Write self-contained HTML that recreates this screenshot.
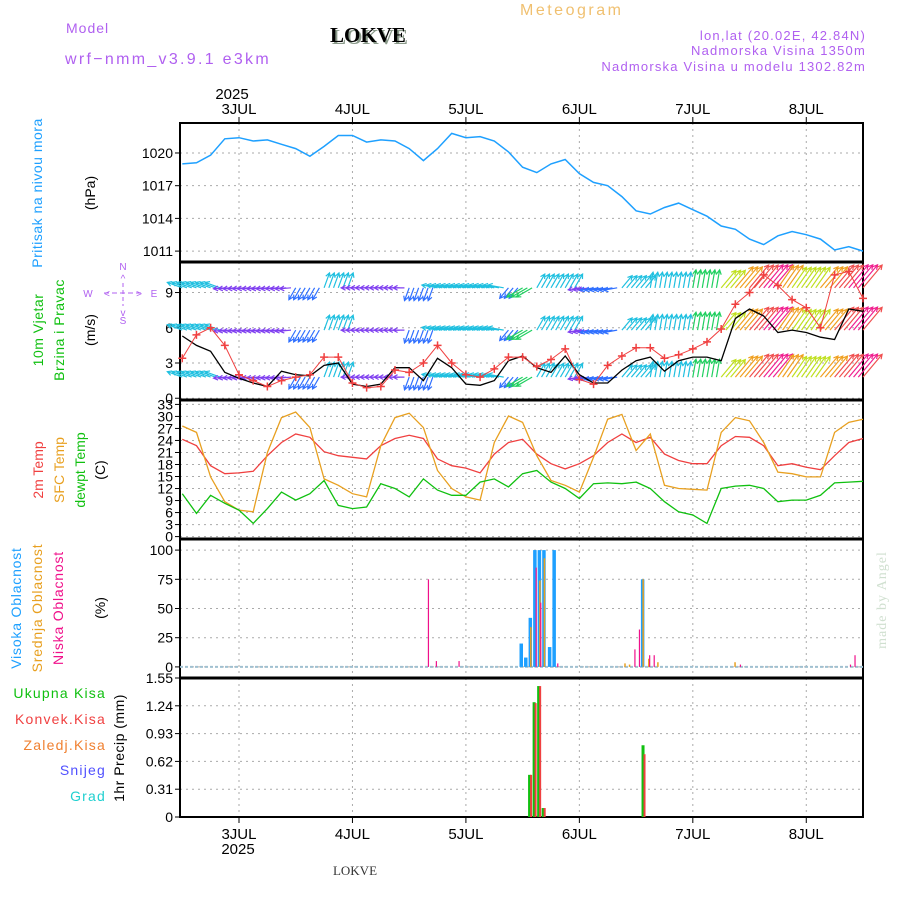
<!DOCTYPE html>
<html><head><meta charset="utf-8">
<style>
body{margin:0;background:#fff;}
svg{display:block;font-family:"Liberation Sans",sans-serif;}
</style></head>
<body>
<svg id="chart" width="900" height="900" viewBox="0 0 900 900">
  <text x="66" y="33" font-size="14" fill="#b060f0" letter-spacing="1">Model</text>
  <text x="65" y="64" font-size="16" fill="#b060f0" letter-spacing="2.3">wrf−nmm_v3.9.1  e3km</text>
  <text x="332" y="44" font-size="21" font-weight="bold" font-family="Liberation Serif,serif" fill="#8a9a8a">LOKVE</text>
  <text x="330" y="42" font-size="21" font-weight="bold" font-family="Liberation Serif,serif" fill="#000">LOKVE</text>
  <text x="520" y="15" font-size="16" fill="#f0c070" letter-spacing="2.5">Meteogram</text>
  <text x="866" y="40" font-size="13" fill="#b060f0" text-anchor="end" letter-spacing="1.2">lon,lat (20.02E, 42.84N)</text>
  <text x="866" y="55" font-size="13" fill="#b060f0" text-anchor="end" letter-spacing="1.2">Nadmorska Visina 1350m</text>
  <text x="866" y="71" font-size="13" fill="#b060f0" text-anchor="end" letter-spacing="1.2">Nadmorska Visina u modelu 1302.82m</text>
  <text x="232" y="99" font-size="15" text-anchor="middle">2025</text>
  <text x="238" y="854" font-size="15" text-anchor="middle">2025</text>
  <text x="355" y="875" font-size="13" font-family="Liberation Serif,serif" fill="#333" text-anchor="middle">LOKVE</text>

  <text transform="translate(42,193) rotate(-90)" font-size="14" fill="#1ea0ff" text-anchor="middle" letter-spacing="0.5">Pritisak na nivou mora</text>
  <text transform="translate(95,193) rotate(-90)" font-size="14" text-anchor="middle">(hPa)</text>

  <text transform="translate(43,330) rotate(-90)" font-size="14" fill="#10c010" text-anchor="middle" letter-spacing="0.5">10m Vjetar</text>
  <text transform="translate(64,330) rotate(-90)" font-size="14" fill="#10c010" text-anchor="middle" letter-spacing="0.5">Brzina i Pravac</text>
  <text transform="translate(95,330) rotate(-90)" font-size="14" text-anchor="middle">(m/s)</text>
  <g fill="#b060f0" font-size="10" text-anchor="middle">
    <text x="123" y="270">N</text><text x="123" y="324">S</text><text x="88" y="297">W</text><text x="154" y="297">E</text>
    <text x="123" y="282">^</text><text x="123" y="316">v</text>
    <line x1="104" y1="293" x2="142" y2="293" stroke="#b060f0" stroke-dasharray="5,3"/>
    <line x1="123" y1="283" x2="123" y2="306" stroke="#b060f0" stroke-dasharray="4,3"/>
    <text x="107" y="297">&lt;</text><text x="139" y="297">&gt;</text>
  </g>

  <text transform="translate(43,470) rotate(-90)" font-size="14" fill="#f04040" text-anchor="middle">2m Temp</text>
  <text transform="translate(64,470) rotate(-90)" font-size="14" fill="#e8a020" text-anchor="middle">SFC Temp</text>
  <text transform="translate(85,470) rotate(-90)" font-size="14" fill="#10c010" text-anchor="middle">dewpt Temp</text>
  <text transform="translate(105,470) rotate(-90)" font-size="14" text-anchor="middle">(C)</text>

  <text transform="translate(21,608) rotate(-90)" font-size="14" fill="#1ea0ff" text-anchor="middle" letter-spacing="0.8">Visoka Oblacnost</text>
  <text transform="translate(42,608) rotate(-90)" font-size="14" fill="#e8a020" text-anchor="middle" letter-spacing="0.8">Srednja Oblacnost</text>
  <text transform="translate(63,608) rotate(-90)" font-size="14" fill="#f0108a" text-anchor="middle" letter-spacing="0.8">Niska Oblacnost</text>
  <text transform="translate(105,608) rotate(-90)" font-size="14" text-anchor="middle">(%)</text>

  <g font-size="14" text-anchor="end" letter-spacing="1.2">
    <text x="106" y="698" fill="#10c010">Ukupna  Kisa</text>
    <text x="106" y="724" fill="#f04040">Konvek.Kisa</text>
    <text x="106" y="750" fill="#f08030">Zaledj.Kisa</text>
    <text x="106" y="775" fill="#5050ff">Snijeg</text>
    <text x="106" y="801" fill="#20d0d0">Grad</text>
  </g>
  <text transform="translate(124,748) rotate(-90)" font-size="14" text-anchor="middle" letter-spacing="0.5">1hr Precip (mm)</text>
  <text transform="translate(886,600) rotate(-90)" font-size="14" font-family="Liberation Serif,serif" fill="#d0e0d0" text-anchor="middle" letter-spacing="1">made by Angel</text>
  <g id="plots"></g>
</svg>
<script>
const times=[-0.5,-0.375,-0.25,-0.125,0,0.125,0.25,0.375,0.5,0.625,0.75,0.875,1,1.125,1.25,1.375,1.5,1.625,1.75,1.875,2,2.125,2.25,2.375,2.5,2.625,2.75,2.875,3,3.125,3.25,3.375,3.5,3.625,3.75,3.875,4,4.125,4.25,4.375,4.5,4.625,4.75,4.875,5,5.125,5.25,5.375,5.5];
const dayLabels=["3JUL","4JUL","5JUL","6JUL","7JUL","8JUL"];
const pressure=[1019.0,1019.1,1019.8,1021.3,1021.4,1021.1,1021.2,1020.8,1020.4,1019.7,1020.6,1021.6,1021.6,1021.0,1021.2,1021.1,1020.4,1019.3,1020.4,1021.8,1021.4,1021.5,1021.1,1020.1,1018.7,1018.2,1019.0,1019.4,1018.1,1017.3,1017.0,1016.0,1014.7,1014.4,1015.0,1015.4,1014.8,1014.2,1013.3,1013.0,1012.1,1011.6,1012.4,1012.8,1012.5,1012.1,1011.1,1011.4,1011.0];
const pressTicks=[1011,1014,1017,1020];
const windSpeed=[5.3,4.5,4.0,2.2,1.7,1.3,1.0,2.3,2.0,1.9,2.8,3.0,1.2,1.0,1.2,2.6,2.6,1.5,3.4,2.6,1.2,1.1,1.5,3.2,3.6,2.6,2.2,3.6,2.0,1.3,1.3,2.4,3.2,3.5,2.3,3.2,3.5,3.5,3.2,6.8,7.6,7.0,5.6,5.8,5.6,5.2,5.0,7.6,7.4];
const windGust=[3.4,5.4,6.0,4.5,2.0,1.5,1.0,1.5,1.8,2.0,3.5,3.5,1.3,0.9,1.0,2.4,2.2,3.0,4.5,3.0,2.0,1.8,2.5,3.5,3.5,2.7,3.3,4.2,1.6,1.2,2.8,3.6,4.3,4.3,3.4,3.7,4.2,4.8,5.9,8.0,9.0,10.5,9.6,8.4,7.7,6.0,10.5,10.8,8.5];
const windDir=[290,290,290,265,265,265,265,265,210,210,20,20,270,270,270,270,200,200,280,280,280,280,280,220,240,30,30,30,260,260,260,40,40,10,10,10,10,10,40,40,40,40,35,35,35,40,40,40,40];
const rowSpeed=[3,3,3,1,1,1,1,1,2,2,3,3,1,1,1,1,2,2,3,3,3,3,3,2,4,3,3,3,1,2,2,3,3,3,3,3,4,4,6,8,9,10,8,7,7,8,9,10,9];
const windRows=[1.8,5.8,9.4];
const windTicks=[0,3,6,9];
const temp2m=[24.3,22.7,17.7,15.7,15.9,16.3,20.2,23.5,25.6,24.8,21.2,20.2,19.8,19.4,22.7,24.5,25.3,24.5,19.4,17.7,17.1,15.9,20.6,23.5,24.3,20.6,18.2,16.9,18.2,20.2,23.5,25.6,23.5,24.8,20.6,19.0,18.2,18.2,22.7,25.0,24.8,22.7,17.7,18.2,17.3,16.7,20.2,23.5,24.5];
const tempSfc=[27.6,26.0,14.9,8.7,6.6,6.2,21.0,29.7,31.1,27.2,14.4,12.8,10.7,9.9,22.7,29.7,30.8,27.2,16.5,12.0,9.9,9.1,23.5,30.1,28.5,20.2,14.0,12.8,11.1,19.8,29.3,30.5,21.5,25.6,12.8,12.0,11.8,11.6,26.0,29.7,28.9,23.5,16.1,15.7,14.9,14.9,26.0,28.5,29.3];
const dewpt=[10.7,5.8,10.3,8.3,6.6,3.3,7.0,11.1,9.1,10.7,14.0,7.8,7.0,7.4,13.2,12.0,9.9,14.4,11.6,10.3,10.3,13.6,14.4,12.4,15.7,16.5,13.6,12.0,9.5,13.2,13.4,13.2,13.6,12.0,8.7,6.2,5.4,3.3,12.0,12.6,12.8,12.0,8.7,9.1,9.1,10.3,13.4,13.6,13.8];
const tempTicks=[0,3,6,9,12,15,18,21,24,27,30,33];
const cloudTimes=[1.66,1.73,1.93,2.80,2.49,2.53,2.57,2.61,2.65,2.69,2.74,2.78,3.40,3.44,3.48,3.52,3.56,3.61,3.65,3.69,4.37,4.41,5.38,5.42];
const cloudLow=[75,5,5,3,0,0,0,85,55,0,0,0,0,0,15,32,0,10,10,0,0,2,2,10];
const cloudMid=[0,0,0,0,0,0,34,0,74,93,0,0,3,2,0,0,75,7,0,4,4,0,0,0];
const cloudHigh=[0,0,0,0,20,8,42,100,100,100,17,100,0,0,0,0,75,0,0,0,0,0,0,0];
const cloudTicks=[0,25,50,75,100];
const precipTimes=[2.57,2.61,2.65,2.69,3.57];
const precipTotal=[0.47,1.28,1.46,0.10,0.80];
const precipConv=[0.47,1.27,1.46,0.10,0.70];
const precipTicks=[0,0.31,0.62,0.93,1.24,1.55];

const NS='http://www.w3.org/2000/svg';
const g=document.getElementById('plots');
const X0=180,X1=863,T0=-0.52,T1=5.5;
function xs(t){return X0+(t-T0)/(T1-T0)*(X1-X0);}
function mk(tag,attrs,parent){const e=document.createElementNS(NS,tag);for(const k in attrs)e.setAttribute(k,attrs[k]);(parent||g).appendChild(e);return e;}
function scaleY(top,bot,vmin,vmax){return v=>bot-(v-vmin)/(vmax-vmin)*(bot-top);}
const panels=[
 {name:'pressure',top:123,bot:262,y:scaleY(123,262,1010,1022.75),ticks:pressTicks},
 {name:'wind',top:262,bot:400,y:scaleY(262,400,-0.15,11.6),ticks:windTicks},
 {name:'temperature',top:400,bot:539,y:scaleY(400,539,-0.6,34.1),ticks:tempTicks},
 {name:'cloud',top:539,bot:678,y:scaleY(539,678,-9.5,109.5),ticks:cloudTicks},
 {name:'precip',top:678,bot:817,y:scaleY(678,817,0,1.55),ticks:precipTicks}
];
panels.forEach(p=>{
  const grp=mk('g',{});
  
  
  for(let d=0;d<6;d++){
    const ln=mk('line',{x1:xs(d),x2:xs(d),y1:p.top,y2:p.bot,stroke:'#aaa','stroke-dasharray':'2,4'},grp);
    
    
  }
  p.ticks.forEach(v=>{
    const yy=p.y(v);
    const ln=mk('line',{x1:X0,x2:X1,y1:yy,y2:yy,stroke:'#aaa','stroke-dasharray':'2,4'},grp);
    
    
    mk('line',{x1:X0-5,x2:X0,y1:yy,y2:yy,stroke:'#000'},grp);
    const tx=mk('text',{x:X0-7,y:yy+5,'font-size':14,'text-anchor':'end'},grp);
    tx.textContent=String(v);
    
    
  });
  const r=mk('rect',{x:X0,y:p.top,width:X1-X0,height:p.bot-p.top,fill:'none',stroke:'#000','stroke-width':2},grp);
  
  
});
[262,400,539,678].forEach(yy=>{mk('line',{x1:X0,x2:X1,y1:yy,y2:yy,stroke:'#000','stroke-width':3});});
mk('line',{x1:X0,x2:X1,y1:817,y2:817,stroke:'#000','stroke-width':2,'stroke-dasharray':'6,2'});
dayLabels.forEach((lb,i)=>{
  const a=mk('text',{x:xs(i),y:114,'font-size':15,'text-anchor':'middle'});
  a.textContent=lb;
  
  
  const b=mk('text',{x:xs(i),y:839,'font-size':15,'text-anchor':'middle'});
  b.textContent=lb;
  
  
  mk('line',{x1:xs(i),x2:xs(i),y1:117,y2:123,stroke:'#000'});
  mk('line',{x1:xs(i),x2:xs(i),y1:817,y2:823,stroke:'#000'});
});
function line(arr,p,color,name,w){
  const d=arr.map((v,i)=>(i?'L':'M')+xs(times[i]).toFixed(1)+','+p.y(v).toFixed(1)).join('');
  const e=mk('path',{d:d,fill:'none',stroke:color,'stroke-width':w||1.3});
  
  
  return e;
}
line(pressure,panels[0],'#1ea0ff','pressure-line',1.5);
function speedColor(s){
  const stops=[[0,'#9030f0'],[1,'#8040f0'],[2,'#3070ff'],[3,'#20c0e0'],[4,'#20d060'],[6,'#c0e020'],[8,'#f0a020'],[9,'#f05050'],[10,'#f02090']];
  let c=stops[0][1];stops.forEach(s0=>{if(s>=s0[0])c=s0[1];});return c;
}
// wind arrows: one glyph per hour inside each 3-hour record
windRows.forEach((lvl,ri)=>{
  const grp=mk('g',{});
  
  
  const base=panels[1].y(lvl);
  times.forEach((t,i)=>{
    const ang=windDir[i]*Math.PI/180;
    const sp=rowSpeed[i];
    const L=Math.min(9+sp*2.3,30);
    const col=speedColor(sp);
    for(let h=0;h<3;h++){
      const x1=xs(t+h/24);
      if(x1>X1)continue;
      const y1=base;
      const x2=x1+L*Math.sin(ang),y2=y1-L*Math.cos(ang);
      const a=mk('path',{d:`M${x1},${y1}L${x2},${y2}M${x2-5*Math.sin(ang-0.5)},${y2+5*Math.cos(ang-0.5)}L${x2},${y2}L${x2-5*Math.sin(ang+0.5)},${y2+5*Math.cos(ang+0.5)}`,stroke:col,'stroke-width':1.2,fill:'none'},grp);
      
      
    }
  });
});
line(windSpeed,panels[1],'#000','wind-speed-line',1.3);
line(windGust,panels[1],'#f04040','wind-gust-line',1);
windGust.forEach((v,i)=>{
  const x=xs(times[i]),y=panels[1].y(v);
  const m=mk('path',{d:`M${x-4},${y}L${x+4},${y}M${x},${y-4}L${x},${y+4}`,stroke:'#f04040','stroke-width':1.5});
  
  
});
line(temp2m,panels[2],'#f04040','temp-2m-line');
line(tempSfc,panels[2],'#e8a020','temp-sfc-line');
line(dewpt,panels[2],'#10c010','dewpoint-line');
const cp=panels[3];
mk('line',{x1:X0,x2:X1,y1:cp.y(0),y2:cp.y(0),stroke:'#a0c0d0','stroke-width':2,'stroke-dasharray':'3,2'});
cloudTimes.forEach((t,i)=>{
  const x=xs(t);
  if(cloudHigh[i]>0){const b=mk('rect',{x:x-2,y:cp.y(cloudHigh[i]),width:3.5,height:cp.y(0)-cp.y(cloudHigh[i]),fill:'#1ea0ff'});}
  if(cloudMid[i]>0){const b=mk('rect',{x:x-0.5,y:cp.y(cloudMid[i]),width:1.5,height:cp.y(0)-cp.y(cloudMid[i]),fill:'#e8a020'});}
  if(cloudLow[i]>0){const b=mk('rect',{x:x+0.5,y:cp.y(cloudLow[i]),width:1.2,height:cp.y(0)-cp.y(cloudLow[i]),fill:'#f0108a'});}
});
const pp=panels[4];
precipTimes.forEach((t,i)=>{
  const x=xs(t);
  const a=mk('rect',{x:x-2.5,y:pp.y(precipTotal[i]),width:3,height:pp.y(0)-pp.y(precipTotal[i]),fill:'#10c010'});
  
  
  const b=mk('rect',{x:x-0.5,y:pp.y(precipConv[i]),width:2,height:pp.y(0)-pp.y(precipConv[i]),fill:'#f04040'});
  
  
});
</script>
</body></html>
